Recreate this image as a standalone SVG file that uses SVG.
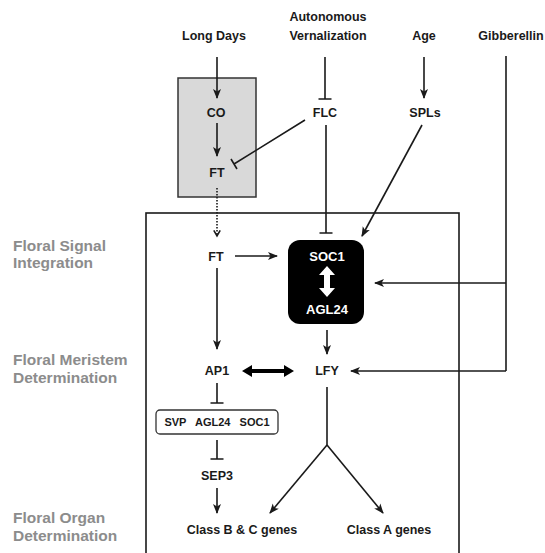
<svg xmlns="http://www.w3.org/2000/svg" width="545" height="553" viewBox="0 0 545 553">
  <style>
    .lbl { font-family: "Liberation Sans", Arial, sans-serif; font-weight: bold; font-size: 12.5px; fill: #1a1a1a; text-anchor: middle; }
    .small { font-size: 11px; }
    .inv { fill: #ffffff; font-size: 13px; }
    .stage { font-family: "Liberation Sans", Arial, sans-serif; font-weight: bold; font-size: 15.5px; fill: #8c8c8c; }
    .ln { stroke: #1a1a1a; stroke-width: 1.6; fill: none; }
    .act { marker-end: url(#arrow); }
    .dot { stroke-dasharray: 1.5 1.5; marker-end: url(#vopen); }
  </style>
  <defs>
    <marker id="arrow" viewBox="0 0 10 10" refX="9" refY="5" markerWidth="10" markerHeight="10" markerUnits="userSpaceOnUse" orient="auto">
      <path d="M0,1 L10,5 L0,9 L2.5,5 Z" fill="#1a1a1a"/>
    </marker>
    <marker id="vopen" viewBox="0 0 10 10" refX="8" refY="5" markerWidth="8" markerHeight="8" markerUnits="userSpaceOnUse" orient="auto">
      <path d="M1,1 L8,5 L1,9" fill="none" stroke="#1a1a1a" stroke-width="2"/>
    </marker>
  </defs>

  <rect width="545" height="553" fill="#ffffff"/>

  <!-- stage labels -->
  <g id="stages">
    <text class="stage" x="13" y="251">Floral Signal</text>
    <text class="stage" x="13" y="268">Integration</text>
    <text class="stage" x="13" y="365">Floral Meristem</text>
    <text class="stage" x="13" y="383">Determination</text>
    <text class="stage" x="13" y="523">Floral Organ</text>
    <text class="stage" x="13" y="541">Determination</text>
  </g>

  <!-- meristem frame and leaf region -->
  <rect id="meristem-frame" x="146" y="213" width="313" height="360" fill="none" stroke="#1a1a1a" stroke-width="1.6"/>
  <rect id="leaf-region" x="178" y="78" width="78" height="119" fill="#d9d9d9" stroke="#333333" stroke-width="1.5"/>

  <!-- nodes -->
  <g id="long-days"><text class="lbl" x="214" y="40">Long Days</text></g>
  <g id="autonomous-vernalization">
    <text class="lbl" x="328" y="21">Autonomous</text>
    <text class="lbl" x="328" y="40">Vernalization</text>
  </g>
  <g id="age"><text class="lbl" x="424" y="40">Age</text></g>
  <g id="gibberellin"><text class="lbl" x="511" y="40">Gibberellin</text></g>
  <g id="co"><text class="lbl" x="216" y="117">CO</text></g>
  <g id="ft-leaf"><text class="lbl" x="217" y="177">FT</text></g>
  <g id="flc"><text class="lbl" x="325" y="117">FLC</text></g>
  <g id="spls"><text class="lbl" x="425" y="117">SPLs</text></g>
  <g id="ft"><text class="lbl" x="216" y="261">FT</text></g>
  <g id="soc1-agl24">
    <rect x="288" y="240" width="76" height="84" rx="12" fill="#000000"/>
    <text class="lbl inv" x="327" y="261">SOC1</text>
    <text class="lbl inv" x="327" y="314">AGL24</text>
    <path d="M327,266 L335,275 L330,275 L330,288 L335,288 L327,297 L319,288 L324,288 L324,275 L319,275 Z" fill="#ffffff"/>
  </g>
  <g id="ap1"><text class="lbl" x="217" y="375">AP1</text></g>
  <g id="lfy"><text class="lbl" x="327" y="375">LFY</text></g>
  <g id="svp-agl24-soc1">
    <rect x="156" y="410" width="122" height="24" rx="4" fill="#ffffff" stroke="#333333" stroke-width="1.3"/>
    <text class="lbl small" x="217" y="426" xml:space="preserve">SVP   AGL24   SOC1</text>
  </g>
  <g id="sep3"><text class="lbl" x="217" y="480">SEP3</text></g>
  <g id="class-bc"><text class="lbl" x="242" y="534">Class B &amp; C genes</text></g>
  <g id="class-a"><text class="lbl" x="389" y="534">Class A genes</text></g>

  <!-- connectors -->
  <g id="connectors">
    <!-- activation -->
    <line class="ln act" x1="217" y1="57" x2="217" y2="98"/>
    <line class="ln act" x1="217" y1="123" x2="217" y2="156"/>
    <line class="ln act" x1="424" y1="57" x2="424" y2="98"/>
    <line class="ln act" x1="422" y1="125" x2="362" y2="236"/>
    <line class="ln act" x1="235" y1="256" x2="277" y2="256"/>
    <line class="ln act" x1="217" y1="268" x2="217" y2="349"/>
    <line class="ln act" x1="327" y1="330" x2="327" y2="354"/>
    <polyline class="ln" points="506,56 506,371"/>
    <line class="ln act" x1="506" y1="283" x2="375" y2="283"/>
    <line class="ln act" x1="506" y1="371" x2="351" y2="371"/>
    <line class="ln act" x1="217" y1="488" x2="217" y2="513"/>
    <polyline class="ln" points="327,387 327,445"/>
    <line class="ln act" x1="327" y1="445" x2="270" y2="513"/>
    <line class="ln act" x1="327" y1="445" x2="383" y2="513"/>
    <!-- dotted mobile signal -->
    <line class="ln dot" x1="217" y1="188" x2="217" y2="236"/>
    <!-- mutual activation -->
    <g id="ap1-lfy">
      <line x1="249" y1="371" x2="287" y2="371" stroke="#000" stroke-width="4"/>
      <path d="M242,371 L252,365 L252,377 Z M294,371 L284,365 L284,377 Z" fill="#000"/>
    </g>
    <!-- repression -->
    <path class="ln" d="M325,57 V99 M318.5,99 H331.5"/>
    <path class="ln" d="M305,120 L234,164 M231,159 L237,169"/>
    <path class="ln" d="M326,125 V233 M319.5,233 H332.5"/>
    <path class="ln" d="M217,383 V403 M210.5,403 H223.5"/>
    <path class="ln" d="M217,440 V459 M210.5,459 H223.5"/>
  </g>
</svg>
